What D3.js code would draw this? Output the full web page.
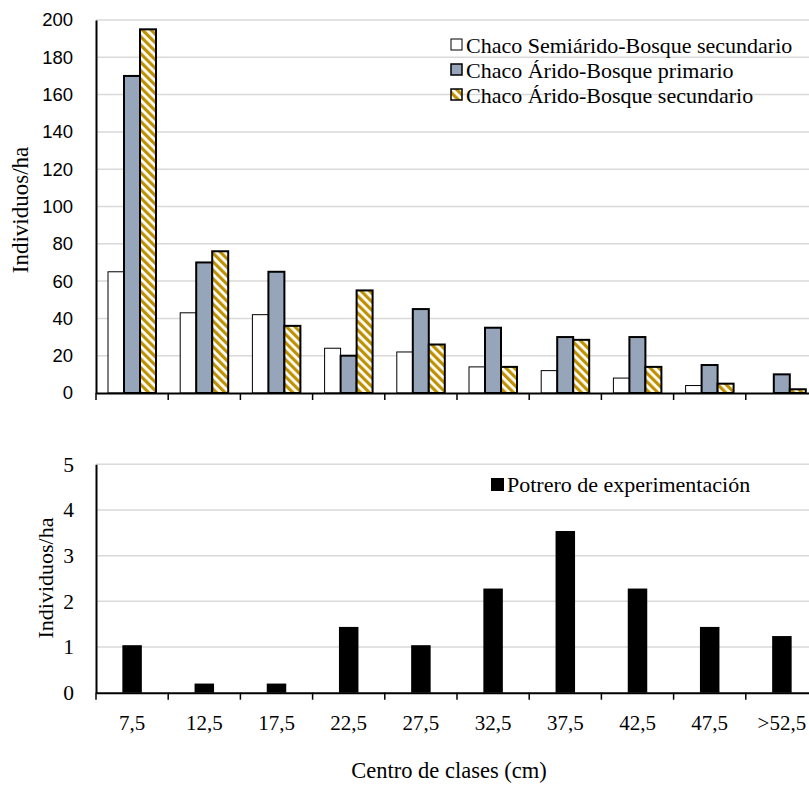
<!DOCTYPE html>
<html>
<head>
<meta charset="utf-8">
<script src="https://cdn.jsdelivr.net/npm/d3@7"></script>
<style>
  body { margin: 0; background: #fff; }
  svg { display: block; }
  .serif { font-family: "Liberation Serif", "Times New Roman", serif; fill: #000; }
  .sans { font-family: "Liberation Sans", Arial, sans-serif; fill: #000; }
</style>
</head>
<body>
<svg id="chart"></svg>
<script>
let w = 809;
let h = 785;

// data
let categories = ["7,5", "12,5", "17,5", "22,5", "27,5", "32,5", "37,5", "42,5", "47,5", ">52,5"];
let seriesNames = ["Chaco Semiárido-Bosque secundario", "Chaco Árido-Bosque primario", "Chaco Árido-Bosque secundario"];
let semiaridoSec = [65, 43, 42, 24, 22, 14, 12, 8, 4, 0];
let aridoPrim = [170, 70, 65, 20, 45, 35, 30, 30, 15, 10];
let aridoSec = [195, 76, 36, 55, 26, 14, 28.5, 14, 5, 2];
let potreroName = "Potrero de experimentación";
let potrero = [1.04, 0.2, 0.2, 1.44, 1.04, 2.28, 3.54, 2.28, 1.44, 1.24];
let topTicks = [0, 20, 40, 60, 80, 100, 120, 140, 160, 180, 200];
let bottomTicks = [0, 1, 2, 3, 4, 5];

let svg = d3.select("#chart").attr("width", w).attr("height", h);

// hatch pattern for the gold series (downward diagonal)
let defs = svg.append("defs");
let pat = defs.append("pattern")
  .attr("id", "hatch")
  .attr("patternUnits", "userSpaceOnUse")
  .attr("width", 6)
  .attr("height", 6)
  .attr("patternTransform", "rotate(-45)");
pat.append("rect").attr("width", 6).attr("height", 6).attr("fill", "#fff");
pat.append("rect").attr("width", 3.2).attr("height", 6).attr("fill", "#bf9000");

let colors = ["#ffffff", "#97a5bb", "url(#hatch)"];
let strokeW = [1, 2, 2];

let xScale = d3.scaleBand().domain(categories).range([96, 818]).padding(0);
let xSub = d3.scaleBand().domain([0, 1, 2]).range([12, 60]).padding(0);

// ---------- top panel ----------
let yTop = d3.scaleLinear().domain([0, 200]).range([393, 20]);

svg.append("g")
  .selectAll("line")
  .data(topTicks.slice(1))
  .enter()
  .append("line")
  .attr("x1", 96).attr("x2", w)
  .attr("y1", d => yTop(d)).attr("y2", d => yTop(d))
  .attr("stroke", "#d9d9d9").attr("stroke-width", 1.5);

let topSeries = [semiaridoSec, aridoPrim, aridoSec];
topSeries.forEach(function (vals, s) {
  svg.append("g")
    .selectAll("rect")
    .data(vals.map((v, i) => ({ cat: categories[i], v: v })).filter(d => d.v > 0))
    .enter()
    .append("rect")
    .attr("x", d => xScale(d.cat) + xSub(s))
    .attr("y", d => yTop(d.v))
    .attr("width", xSub.bandwidth())
    .attr("height", d => yTop(0) - yTop(d.v))
    .attr("fill", colors[s])
    .attr("stroke", "#000")
    .attr("stroke-width", strokeW[s]);
});

// x axis (ticks only)
svg.append("g")
  .attr("transform", "translate(0," + yTop(0) + ")")
  .call(d3.axisBottom(xScale).tickSize(0).tickFormat(""))
  .call(g => g.select(".domain").attr("stroke", "#000").attr("stroke-width", 2));
svg.append("g")
  .selectAll("line")
  .data(categories)
  .enter()
  .append("line")
  .attr("x1", d => xScale(d)).attr("x2", d => xScale(d))
  .attr("y1", yTop(0)).attr("y2", yTop(0) + 7)
  .attr("stroke", "#000").attr("stroke-width", 1.5);

// y axis
svg.append("g")
  .attr("transform", "translate(96,0)")
  .call(d3.axisLeft(yTop).tickValues(topTicks).tickSize(0).tickPadding(23))
  .call(g => g.select(".domain").attr("stroke", "#000").attr("stroke-width", 2))
  .call(g => g.selectAll("text").attr("class", "sans").style("font-size", "18.5px").attr("fill", "#000"));

svg.append("text")
  .attr("class", "serif")
  .attr("transform", "translate(28,210) rotate(-90)")
  .attr("text-anchor", "middle")
  .style("font-size", "23px")
  .text("Individuos/ha");

// legend top
let legTop = svg.append("g");
seriesNames.forEach(function (name, s) {
  let y = 45 + s * 25;
  legTop.append("rect")
    .attr("x", 451).attr("y", y - 6)
    .attr("width", 11).attr("height", 11)
    .attr("fill", colors[s])
    .attr("stroke", "#000")
    .attr("stroke-width", s === 0 ? 1 : 1.5);
  legTop.append("text")
    .attr("class", "serif")
    .attr("x", 466).attr("y", y)
    .attr("dy", "0.35em")
    .style("font-size", "22px")
    .text(name);
});

// ---------- bottom panel ----------
let yBot = d3.scaleLinear().domain([0, 5]).range([692.7, 464.3]);

svg.append("g")
  .selectAll("line")
  .data(bottomTicks.slice(1))
  .enter()
  .append("line")
  .attr("x1", 96).attr("x2", w)
  .attr("y1", d => yBot(d)).attr("y2", d => yBot(d))
  .attr("stroke", "#d9d9d9").attr("stroke-width", 1.5);

let barW = 19.5;
svg.append("g")
  .selectAll("rect")
  .data(potrero.map((v, i) => ({ cat: categories[i], v: v })))
  .enter()
  .append("rect")
  .attr("x", d => xScale(d.cat) + (xScale.bandwidth() - barW) / 2)
  .attr("y", d => yBot(d.v))
  .attr("width", barW)
  .attr("height", d => yBot(0) - yBot(d.v))
  .attr("fill", "#000");

svg.append("g")
  .attr("transform", "translate(0," + yBot(0) + ")")
  .call(d3.axisBottom(xScale).tickSize(0).tickPadding(22))
  .call(g => g.select(".domain").attr("stroke", "#000").attr("stroke-width", 2))
  .call(g => g.selectAll("text").attr("class", "serif").style("font-size", "21px").attr("fill", "#000"));
svg.append("g")
  .selectAll("line")
  .data(categories)
  .enter()
  .append("line")
  .attr("x1", d => xScale(d)).attr("x2", d => xScale(d))
  .attr("y1", yBot(0)).attr("y2", yBot(0) + 7)
  .attr("stroke", "#000").attr("stroke-width", 1.5);

svg.append("g")
  .attr("transform", "translate(96,0)")
  .call(d3.axisLeft(yBot).tickValues(bottomTicks).tickFormat(d3.format("d")).tickSize(0).tickPadding(22))
  .call(g => g.select(".domain").attr("stroke", "#000").attr("stroke-width", 2))
  .call(g => g.selectAll("text").attr("class", "serif").style("font-size", "21.5px").attr("fill", "#000"));

svg.append("text")
  .attr("class", "serif")
  .attr("transform", "translate(45,578) rotate(-90)")
  .attr("text-anchor", "middle")
  .attr("dy", "0.35em")
  .style("font-size", "22px")
  .text("Individuos/ha");

svg.append("text")
  .attr("class", "serif")
  .attr("x", 449).attr("y", 770)
  .attr("text-anchor", "middle")
  .attr("dy", "0.35em")
  .style("font-size", "22.5px")
  .text("Centro de clases (cm)");

// legend bottom
svg.append("rect")
  .attr("x", 491).attr("y", 478)
  .attr("width", 13).attr("height", 13)
  .attr("fill", "#000");
svg.append("text")
  .attr("class", "serif")
  .attr("x", 507).attr("y", 484.5)
  .attr("dy", "0.35em")
  .style("font-size", "22px")
  .text(potreroName);
</script>
</body>
</html>
